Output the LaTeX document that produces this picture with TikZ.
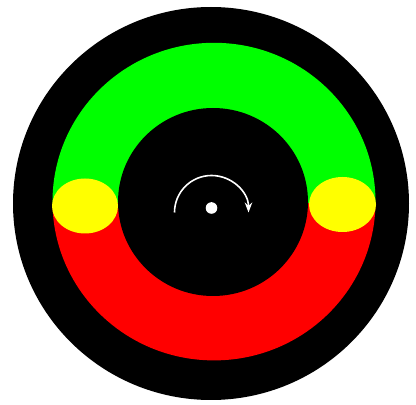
\documentclass[tikz,border=0pt]{standalone}
\usepackage{tikz}
\usetikzlibrary{arrows.meta}
\usepackage{xcolor}
\definecolor{dialgreen}{HTML}{00FF00}
\definecolor{dialred}{HTML}{FF0000}
\definecolor{dialyellow}{HTML}{FFFF00}

\begin{document}
\begin{tikzpicture}[x=1pt,y=1pt]
\useasboundingbox (0,0) rectangle (416,405);
\fill[black] (211,201.5) ellipse[x radius=198,y radius=196.5];
\begin{scope}
\clip (0,201) rectangle (416,405);
\fill[dialgreen] (214,203.4) ellipse[x radius=161.5,y radius=158.8];
\end{scope}
\begin{scope}
\clip (0,0) rectangle (416,201);
\fill[dialred] (214,203.4) ellipse[x radius=161.5,y radius=158.8];
\end{scope}
\fill[black] (213,203) ellipse[x radius=95,y radius=94];
\fill[dialyellow] (85,199) ellipse[x radius=33,y radius=27.5];
\fill[dialyellow] (342.5,200.5) ellipse[x radius=33.5,y radius=27.5];
\fill[white] (211.5,197) circle[radius=5.8];
\draw[white,line width=1.6pt,-{Stealth[length=10pt,width=7.5pt]}] (174.5,192.5) arc[start angle=180,end angle=0,radius=37];
\end{tikzpicture}
\end{document}
